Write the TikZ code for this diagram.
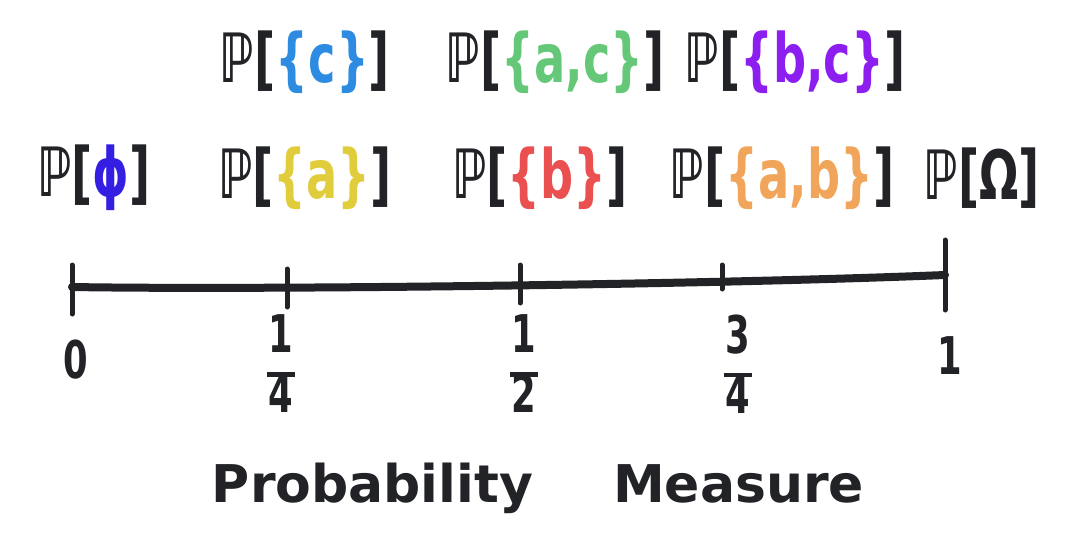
\documentclass[tikz,border=0pt]{standalone}
\usepackage{fontspec}
\setmainfont{DejaVu Sans}
\newfontfamily\handfont[FakeStretch=0.68]{DejaVu Sans}
\newfontfamily\capfont{DejaVu Sans}
\definecolor{emptyblue}{RGB}{52,30,226}
\definecolor{setc}{RGB}{45,140,225}
\definecolor{setac}{RGB}{100,200,120}
\definecolor{setbc}{RGB}{140,30,240}
\definecolor{seta}{RGB}{225,205,60}
\definecolor{setb}{RGB}{235,80,80}
\definecolor{setab}{RGB}{240,165,90}
\definecolor{inkgray}{RGB}{34,35,38}
\tikzset{
  probnode/.style={inner sep=0pt, text=inkgray, font=\handfont\bfseries\fontsize{68}{68}\selectfont},
  ticklabel/.style={inner sep=0pt, text=inkgray, align=center, font=\handfont\bfseries\fontsize{52}{44}\selectfont},
  tickmark/.style={draw=inkgray, line width=5pt, line cap=round},
  numline/.style={draw=inkgray, line width=8pt, line cap=round}
}
\newcommand{\fracbar}{\rule[0pt]{28pt}{4.5pt}}
\begin{document}
\begin{tikzpicture}[x=1pt, y=-1pt]
\useasboundingbox (0,0) rectangle (1090,543);
% event labels, singletons and full sets
\node[probnode] (pempty) at (94,178) {ℙ[\textcolor{emptyblue}{ϕ}]};
\node[probnode] (pa) at (305,178) {ℙ[\textcolor{seta}{\{a\}}]};
\node[probnode] (pb) at (540,178) {ℙ[\textcolor{setb}{\{b\}}]};
\node[probnode] (pab) at (782,178) {ℙ[\textcolor{setab}{\{a,b\}}]};
\node[probnode] (pomega) at (982,178) {ℙ[Ω]};
% pairs with c
\node[probnode] (pc) at (305,62) {ℙ[\textcolor{setc}{\{c\}}]};
\node[probnode] (pac) at (555,62) {ℙ[\textcolor{setac}{\{a,c\}}]};
\node[probnode] (pbc) at (795,62) {ℙ[\textcolor{setbc}{\{b,c\}}]};
% the unit interval
\coordinate (t0) at (72,287);
\coordinate (t1) at (287,285);
\coordinate (t2) at (520,281);
\coordinate (t3) at (722,279);
\coordinate (t4) at (945,275);
\draw[numline] (t0) .. controls (250,290) and (700,285) .. (t4);
\draw[tickmark] ([yshift=-27pt]t0) -- ([yshift=22pt]t0);
\draw[tickmark] ([yshift=-22pt]t1) -- ([yshift=16pt]t1);
\draw[tickmark] ([yshift=-22pt]t2) -- ([yshift=16pt]t2);
\draw[tickmark] ([yshift=-10pt]t3) -- ([yshift=14pt]t3);
\draw[tickmark] ([yshift=-35pt]t4) -- ([yshift=35pt]t4);
% tick values
\node[ticklabel] (v0) at (76,360) {0};
\node[ticklabel] (v1) at (281,364) {1\\[-20pt]\fracbar\\[-8pt]4};
\node[ticklabel] (v2) at (524,364) {1\\[-20pt]\fracbar\\[-8pt]2};
\node[ticklabel] (v3) at (738,364) {3\\[-20pt]\fracbar\\[-8pt]4};
\node[ticklabel] (v4) at (950,356) {1};
% caption
\node[probnode, font=\capfont\bfseries\fontsize{52}{52}\selectfont] (title) at (538,488) {Probability\hspace{80pt}Measure};
\end{tikzpicture}
\end{document}
